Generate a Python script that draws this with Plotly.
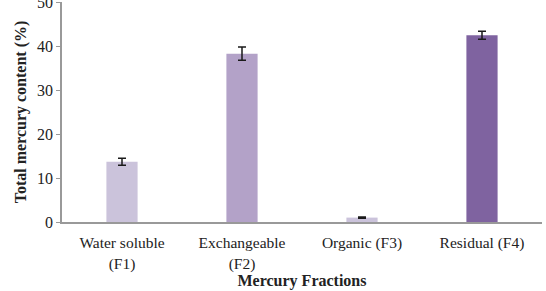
import plotly.graph_objects as go

categories = ["Water soluble<br>(F1)", "Exchangeable<br>(F2)", "Organic (F3)", "Residual (F4)"]
values = [13.7, 38.3, 1.0, 42.5]
errors = [0.8, 1.5, 0.15, 0.9]
colors = ["#CBC3DB", "#B3A2C8", "#CBC3DB", "#7F63A0"]

fig = go.Figure(go.Bar(
    x=categories, y=values, marker_color=colors, marker_line_width=0,
    width=0.26,
    error_y=dict(type="data", array=errors, color="#1a1a1a", thickness=1.5, width=4),
))

fig.update_layout(
    width=546, height=291,
    margin=dict(l=62, r=4, t=2, b=69, autoexpand=False),
    plot_bgcolor="white", paper_bgcolor="white",
    font=dict(family="Liberation Serif", size=15, color="#222"),
    showlegend=False,
    xaxis=dict(
        showline=True, linecolor="#999", linewidth=1.5, ticks="",
        tickfont=dict(size=15.5), ticklabelstandoff=6, automargin=False,
        title=dict(text="<b>Mercury Fractions</b>", font=dict(size=16), standoff=0),
    ),
    yaxis=dict(
        range=[0, 50.05], tickvals=[0, 10, 20, 30, 40, 50], showgrid=False, zeroline=False,
        showline=True, linecolor="#999", linewidth=1.5, automargin=False,
        ticks="outside", ticklen=4, tickcolor="#999",
        tickfont=dict(size=16), ticklabeloverflow="allow",
        title=dict(text="<b>Total mercury content (%)</b>", font=dict(size=16), standoff=6),
    ),
)

fig.write_html("out.html")
